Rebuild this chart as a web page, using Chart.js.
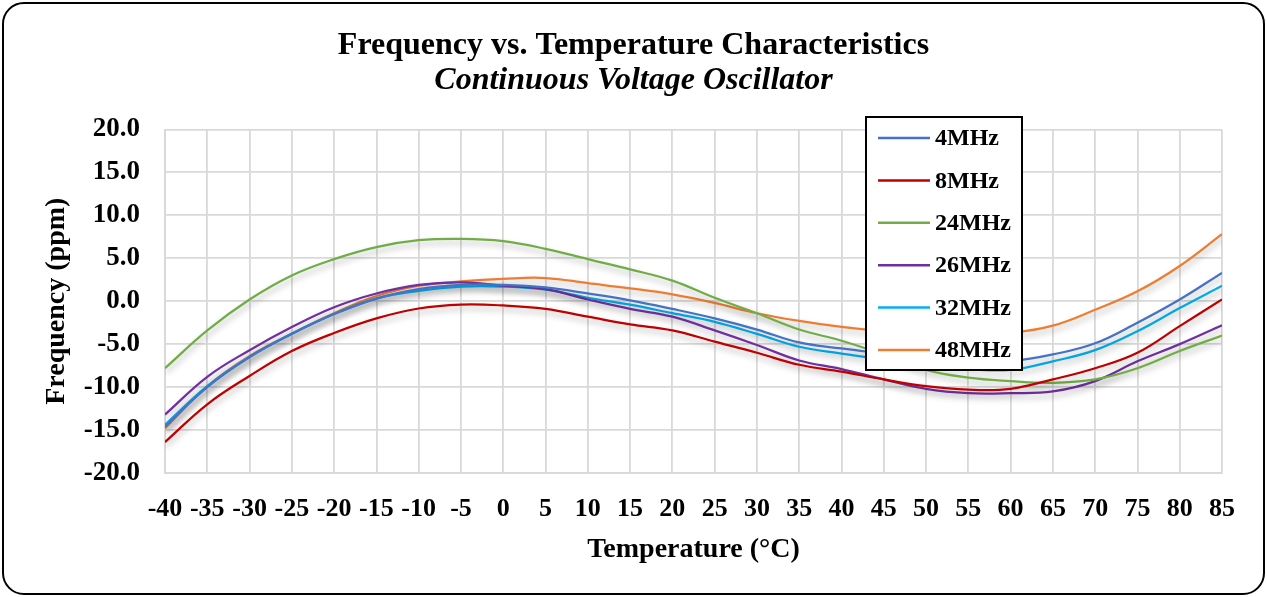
<!DOCTYPE html>
<html>
<head>
<meta charset="utf-8">
<script src="https://cdn.jsdelivr.net/npm/chart.js@4.4.1/dist/chart.umd.min.js"></script>
<style>
  html, body { margin: 0; padding: 0; background: #fff; }
  #wrap { position: relative; width: 1267px; height: 597px; }
  #c { position: absolute; left: 0; top: 0; }
  #frame { position: absolute; left: 2px; top: 2px; width: 1259px; height: 589px;
           border: 2px solid #000; border-radius: 22px; pointer-events: none; }
</style>
</head>
<body>
<div id="wrap">
  <canvas id="c" width="1267" height="597"></canvas>
  <div id="frame"></div>
</div>
<script>
const temperatures = [-40,-35,-30,-25,-20,-15,-10,-5,0,5,10,15,20,25,30,35,40,45,50,55,60,65,70,75,80,85];
const seriesLabels = ["4MHz","8MHz","24MHz","26MHz","32MHz","48MHz"];
const f4MHz  = [-14.6,-10.0,-6.5,-3.8,-1.5,0.3,1.4,1.9,1.9,1.6,0.9,0.1,-0.9,-2.0,-3.3,-4.8,-5.5,-6.1,-6.7,-7.1,-7.0,-6.2,-4.9,-2.5,0.2,3.3];
const f8MHz  = [-16.4,-12.0,-8.7,-5.8,-3.7,-2.0,-0.85,-0.4,-0.5,-0.9,-1.8,-2.7,-3.4,-4.7,-6.0,-7.4,-8.2,-9.1,-9.9,-10.3,-10.2,-9.1,-7.8,-6.0,-2.9,0.2];
const f24MHz = [-7.8,-3.4,0.2,3.0,4.9,6.3,7.1,7.26,7.0,6.1,4.9,3.7,2.4,0.4,-1.4,-3.3,-4.6,-6.2,-8.0,-8.9,-9.3,-9.5,-9.1,-7.8,-5.8,-4.0];
const f26MHz = [-13.2,-8.8,-5.7,-3.0,-0.7,0.9,1.9,2.2,1.8,1.4,0.2,-0.9,-1.8,-3.4,-5.1,-6.9,-7.9,-9.1,-10.2,-10.7,-10.7,-10.5,-9.3,-7.0,-5.0,-2.8];
const f32MHz = [-14.4,-9.9,-6.5,-3.8,-1.5,0.3,1.2,1.7,1.7,1.35,0.4,-0.4,-1.4,-2.4,-3.8,-5.3,-6.1,-6.8,-7.5,-7.9,-8.0,-7.0,-5.7,-3.5,-0.8,1.8];
const f48MHz = [-14.8,-9.9,-6.4,-3.8,-1.4,0.6,1.8,2.3,2.6,2.7,2.1,1.5,0.8,-0.2,-1.4,-2.3,-3.0,-3.5,-3.8,-3.9,-3.7,-2.85,-1.0,1.15,4.1,7.8];
const yTicks = [-20,-15,-10,-5,0,5,10,15,20];

const seriesValues = [f4MHz, f8MHz, f24MHz, f26MHz, f32MHz, f48MHz];
const seriesColors = ["#4472C4","#C00000","#70AD47","#7030A0","#00B0F0","#ED7D31"];
const FONT = "'Liberation Serif', 'Times New Roman', serif";

const datasets = seriesLabels.map((lab, i) => ({
  label: lab,
  data: temperatures.map((t, k) => ({x: t, y: seriesValues[i][k]})),
  borderColor: seriesColors[i],
  backgroundColor: seriesColors[i],
  borderWidth: 2.25,
  pointRadius: 0,
  tension: 0.4,
  fill: false
}));

const shadowPlugin = {
  id: 'lineShadow',
  beforeDatasetsDraw(chart) {
    const ctx = chart.ctx;
    ctx.save();
    ctx.shadowColor = 'rgba(0,0,0,0.30)';
    ctx.shadowBlur = 6;
    ctx.shadowOffsetX = 1;
    ctx.shadowOffsetY = 4;
  },
  afterDatasetsDraw(chart) {
    chart.ctx.restore();
  }
};

const boxLegend = {
  id: 'boxLegend',
  afterDraw(chart) {
    const ctx = chart.ctx;
    const L = 866, T = 117, W = 156, H = 253;
    ctx.save();
    ctx.fillStyle = '#fff';
    ctx.fillRect(L, T, W, H);
    ctx.strokeStyle = '#000';
    ctx.lineWidth = 2;
    ctx.strokeRect(L, T, W, H);
    ctx.font = "bold 24px " + FONT;
    ctx.textBaseline = 'middle';
    ctx.textAlign = 'left';
    chart.data.datasets.forEach((ds, i) => {
      const y = T + 21 + i * 42.4;
      ctx.strokeStyle = ds.borderColor;
      ctx.lineWidth = 2.5;
      ctx.beginPath();
      ctx.moveTo(L + 12, y);
      ctx.lineTo(L + 64, y);
      ctx.stroke();
      ctx.fillStyle = '#000';
      ctx.fillText(ds.label, L + 69, y + 1);
    });
    ctx.restore();
  }
};

new Chart(document.getElementById('c'), {
  type: 'line',
  data: { datasets },
  options: {
    responsive: false,
    animation: false,
    layout: { padding: 0 },
    plugins: {
      legend: { display: false },
      tooltip: { enabled: false },
      title: {
        display: true,
        text: 'Frequency vs. Temperature Characteristics',
        color: '#000',
        font: { family: FONT, size: 32, weight: 'bold', lineHeight: 1.1 },
        padding: { top: 28, bottom: 0 }
      },
      subtitle: {
        display: true,
        text: 'Continuous Voltage Oscillator',
        color: '#000',
        font: { family: FONT, size: 32, weight: 'bold', style: 'italic', lineHeight: 1.1 },
        padding: { top: 0, bottom: 31 }
      }
    },
    scales: {
      x: {
        type: 'linear',
        min: temperatures[0],
        max: temperatures[temperatures.length - 1],
        afterBuildTicks(scale) { scale.ticks = temperatures.map(v => ({value: v})); },
        afterFit(scale) { scale.height = 124; },
        grid: { color: '#D9D9D9', lineWidth: 1.8, drawTicks: false },
        border: { color: '#D9D9D9', width: 1.8 },
        ticks: {
          autoSkip: false, maxRotation: 0, minRotation: 0, padding: 21,
          color: '#000',
          font: { family: FONT, size: 26, weight: 'bold' }
        },
        title: {
          display: true, text: 'Temperature (°C)', color: '#000',
          font: { family: FONT, size: 28, weight: 'bold', lineHeight: 1.2 },
          padding: { top: 0, bottom: 30 }
        }
      },
      y: {
        min: yTicks[0],
        max: yTicks[yTicks.length - 1],
        afterBuildTicks(scale) { scale.ticks = yTicks.map(v => ({value: v})); },
        afterFit(scale) { scale.width = 165; },
        grid: { color: '#D9D9D9', lineWidth: 1.8, drawTicks: false },
        border: { color: '#D9D9D9', width: 1.8 },
        ticks: {
          padding: 25, color: '#000',
          font: { family: FONT, size: 27, weight: 'bold' },
          callback: v => Number(v).toFixed(1)
        },
        title: {
          display: true, text: 'Frequency (ppm)', color: '#000',
          font: { family: FONT, size: 28, weight: 'bold', lineHeight: 1.2 },
          padding: { top: 40, bottom: 0 }
        }
      },
      yRightSpace: {
        position: 'right',
        display: true,
        afterFit(scale) { scale.width = 45; },
        grid: { display: false, drawTicks: false },
        border: { display: false },
        ticks: { display: false },
        title: { display: false }
      }
    }
  },
  plugins: [shadowPlugin, boxLegend]
});
</script>
</body>
</html>
